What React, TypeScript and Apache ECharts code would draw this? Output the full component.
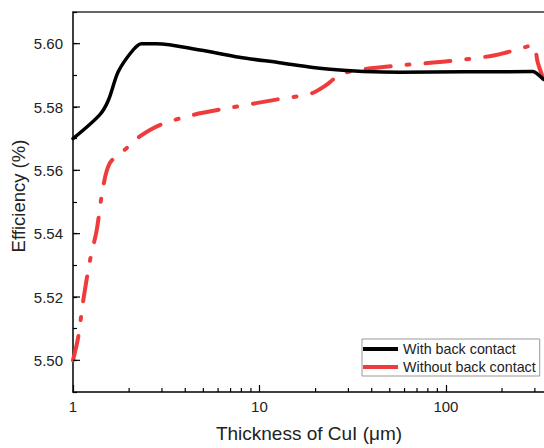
import React, { useEffect, useRef } from "react";
import * as echarts from "echarts";

// Thickness of CuI (µm) and efficiency (%) — with back contact
const withX = [1, 1.39, 1.55, 1.75, 2.1, 2.33, 2.8, 4.8, 7.8, 12.8, 19.4, 29.3, 36, 56.5, 292, 330, 340];
const withY = [5.570, 5.5775, 5.5822, 5.5912, 5.598, 5.600, 5.600, 5.598, 5.5957, 5.594, 5.5925, 5.5915, 5.5912, 5.591, 5.5912, 5.589, 5.5885];

// without back contact
const withoutX = [1, 1.067, 1.135, 1.233, 1.339, 1.452, 1.577, 1.937, 2.28, 2.92, 4.4, 7.2, 12.8, 15.8, 19.4, 22.9, 25.4, 29.3, 36, 61.3, 104.7, 186, 269, 295, 311, 330, 340];
const withoutY = [5.500, 5.5074, 5.5189, 5.5315, 5.541, 5.5549, 5.5623, 5.567, 5.5707, 5.5743, 5.5775, 5.5799, 5.5825, 5.5833, 5.5845, 5.587, 5.5891, 5.5909, 5.5919, 5.5933, 5.5945, 5.5964, 5.599, 5.5995, 5.594, 5.5895, 5.587];

const seriesNames = ["With back contact", "Without back contact"];
const xMin = 1;
const xMax = 340;
const yMin = 5.49;
const yMax = 5.61;
const yStep = 0.01;
// minor tick positions on the log x axis
const xMinorTicks = [2, 3, 4, 5, 6, 7, 8, 9, 20, 30, 40, 50, 60, 70, 80, 90, 200, 300];
// labelled (major) y ticks
const yMajorTicks = [5.5, 5.52, 5.54, 5.56, 5.58, 5.6];

const FONT = "Liberation Sans, Arial, sans-serif";

export default function App() {
  const ref = useRef<HTMLDivElement>(null);
  useEffect(() => {
    if (!ref.current) return;
    const chart = echarts.init(ref.current, null, { renderer: "svg" });
    const withData = withX.map((x, i) => [x, withY[i]]);
    const withoutData = withoutX.map((x, i) => [x, withoutY[i]]);
    chart.setOption({
      animation: false,
      backgroundColor: "#ffffff",
      grid: {
        left: 73,
        top: 12,
        right: -1,
        bottom: 56,
        outerBoundsMode: "none",
        containLabel: false,
        show: false,
      },
      legend: {
        data: seriesNames,
        orient: "vertical",
        left: 362,
        top: 339,
        padding: [3, 4, 2, 1],
        itemGap: 4,
        itemWidth: 35,
        itemHeight: 4,
        icon: "rect",
        borderColor: "#999",
        borderWidth: 1,
        borderRadius: 0,
        backgroundColor: "#fff",
        textStyle: { fontFamily: FONT, fontSize: 14.3, color: "#222" },
      },
      xAxis: [
        {
          type: "log",
          logBase: 10,
          min: xMin,
          max: xMax,
          name: "Thickness of CuI (\u03bcm)",
          nameLocation: "middle",
          nameGap: 32,
          nameMoveOverlap: false,
          nameTextStyle: { fontFamily: FONT, fontSize: 19, color: "#222" },
          axisLine: { show: true, lineStyle: { color: "#000", width: 1.5 } },
          axisTick: { show: true, inside: true, length: 7, lineStyle: { color: "#000", width: 1.2 } },
          axisLabel: {
            fontFamily: FONT,
            fontSize: 15,
            color: "#222",
            margin: 7,
            showMaxLabel: false,
            formatter: (v: number) => String(Math.round(v)),
          },
          splitLine: { show: false },
          minorTick: { show: false },
        },
        {
          type: "log",
          logBase: 10,
          position: "top",
          min: xMin,
          max: xMax,
          axisLine: { show: true, lineStyle: { color: "#333", width: 1.5 } },
          axisTick: { show: false },
          axisLabel: { show: false },
          splitLine: { show: false },
        },
      ],
      yAxis: {
        type: "value",
        min: yMin,
        max: yMax,
        interval: yStep,
        name: "Efficiency (%)",
        nameLocation: "middle",
        nameGap: 45,
        nameMoveOverlap: false,
        nameTextStyle: { fontFamily: FONT, fontSize: 18.5, color: "#222", padding: [0, 0, 0, 12] },
        axisLine: { show: true, lineStyle: { color: "#000", width: 1.5 } },
        axisTick: { show: true, inside: true, length: 4, lineStyle: { color: "#000", width: 1.2 } },
        axisLabel: {
          fontFamily: FONT,
          fontSize: 15,
          color: "#222",
          margin: 10,
          formatter: (v: number) => (Math.round(v * 100) % 2 === 0 ? v.toFixed(2) : ""),
        },
        splitLine: { show: false },
      },
      series: [
        {
          name: seriesNames[0],
          type: "line",
          data: withData,
          showSymbol: false,
          smooth: 0.3,
          color: "#000000",
          lineStyle: { color: "#000000", width: 3.5, cap: "round", join: "round" },
          z: 3,
        },
        {
          name: seriesNames[1],
          type: "line",
          data: withoutData,
          showSymbol: false,
          smooth: 0.3,
          color: "#ef3b3b",
          lineStyle: { color: "#ef3b3b", width: 4, type: [25, 16, 3, 16], cap: "round", join: "round" },
          z: 2,
        },
        {
          name: "xMinor",
          type: "custom",
          silent: true,
          data: xMinorTicks.map((v) => [v, yMin]),
          renderItem: (params: any, api: any) => {
            const p = api.coord([api.value(0), api.value(1)]);
            return {
              type: "line",
              shape: { x1: p[0], y1: p[1], x2: p[0], y2: p[1] - 4 },
              style: { stroke: "#000", lineWidth: 1.2 },
            };
          },
          z: 5,
        },
        {
          name: "yMajor",
          type: "custom",
          silent: true,
          data: yMajorTicks.map((v) => [xMin, v]),
          renderItem: (params: any, api: any) => {
            const p = api.coord([api.value(0), api.value(1)]);
            return {
              type: "line",
              shape: { x1: p[0], y1: p[1], x2: p[0] + 7, y2: p[1] },
              style: { stroke: "#000", lineWidth: 1.2 },
            };
          },
          z: 5,
        },
      ],
    });
    return () => chart.dispose();
  }, []);
  return (
    <div
      ref={ref}
      style={{ position: "fixed", left: 0, top: 0, width: 544, height: 448, overflow: "hidden" }}
    />
  );
}
